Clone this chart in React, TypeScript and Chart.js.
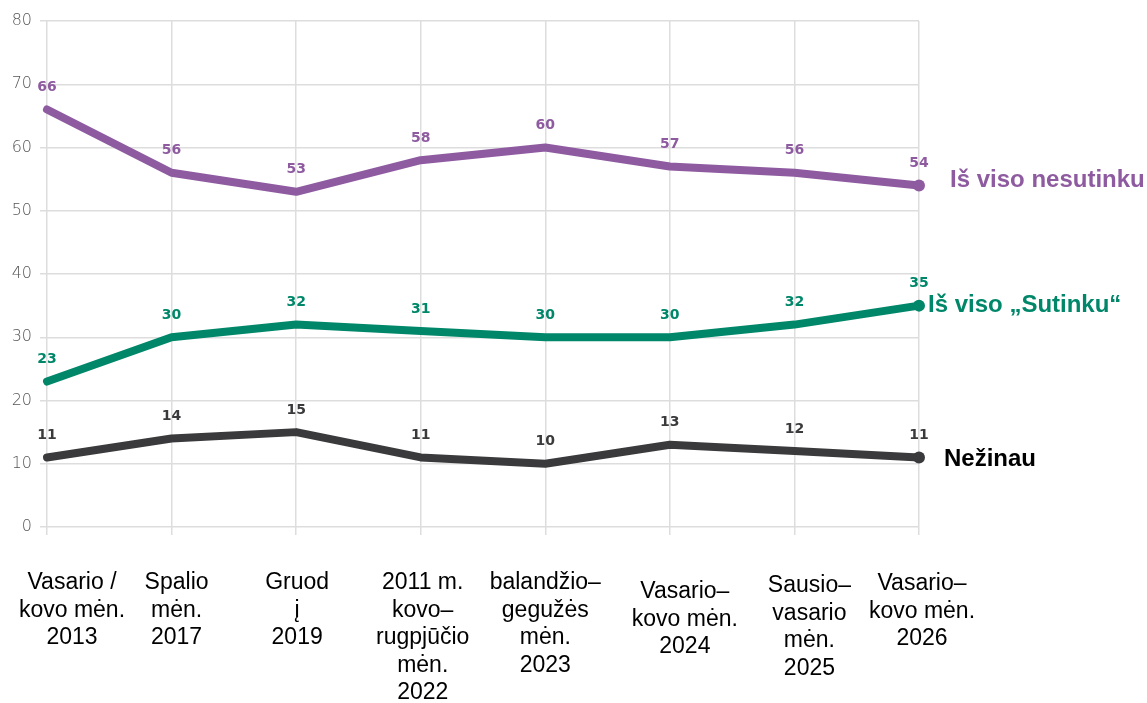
import React, { useEffect, useRef } from "react";
import { Chart, registerables } from "chart.js";

Chart.register(...registerables);

const categories: string[][] = [
  ["Vasario /", "kovo mėn.", "2013"],
  ["Spalio", "mėn.", "2017"],
  ["Gruod", "į", "2019"],
  ["2011 m.", "kovo–", "rugpjūčio", "mėn.", "2022"],
  ["balandžio–", "gegužės", "mėn.", "2023"],
  ["Vasario–", "kovo mėn.", "2024"],
  ["Sausio–", "vasario", "mėn.", "2025"],
  ["Vasario–", "kovo mėn.", "2026"],
];

const nesutinku = [66, 56, 53, 58, 60, 57, 56, 54];
const sutinku = [23, 30, 32, 31, 30, 30, 32, 35];
const nezinau = [11, 14, 15, 11, 10, 13, 12, 11];

const seriesNames = ["Iš viso nesutinku", "Iš viso „Sutinku“", "Nežinau"];
const seriesColors = ["#8E5BA0", "#00876A", "#3A3A3C"];
const endLabelColors = ["#8E5BA0", "#00876A", "#000000"];
const endLabelOffsets = [
  { dx: 31, dy: -5 },
  { dx: 9, dy: 0 },
  { dx: 25, dy: 2 },
];

// small nudges of the category labels relative to their ticks, as in the source
const catLabelShiftX = [25, 5, 1, 2, 0, 15, 15, 3];
const catLabelShiftY = [0, 0, 0, 0, 0, 9, 3, 1];

const yTicks = [0, 10, 20, 30, 40, 50, 60, 70, 80];

const labelPlugin = {
  id: "labels",
  afterDatasetsDraw(chart: any) {
    const ctx = chart.ctx;
    ctx.save();
    chart.data.datasets.forEach((ds: any, i: number) => {
      const meta = chart.getDatasetMeta(i);
      ctx.font = "bold 14px 'DejaVu Sans', sans-serif";
      ctx.fillStyle = ds.borderColor;
      ctx.textAlign = "center";
      ctx.textBaseline = "middle";
      meta.data.forEach((pt: any, j: number) => {
        ctx.fillText(String(ds.data[j]), pt.x, pt.y - 22);
      });
      const last = meta.data[meta.data.length - 1];
      ctx.font = "bold 24px 'Liberation Sans', Arial, sans-serif";
      ctx.fillStyle = endLabelColors[i];
      ctx.textAlign = "left";
      ctx.fillText(
        seriesNames[i],
        last.x + endLabelOffsets[i].dx,
        last.y + endLabelOffsets[i].dy
      );
    });

    // category labels
    const xs = chart.scales.x;
    const base = chart.chartArea.bottom + 62;
    ctx.font = "23px 'Liberation Sans', Arial, sans-serif";
    ctx.fillStyle = "#000";
    ctx.textAlign = "center";
    ctx.textBaseline = "alphabetic";
    categories.forEach((lines, i) => {
      const x = xs.getPixelForTick(i) + catLabelShiftX[i];
      lines.forEach((ln, k) => {
        ctx.fillText(ln, x, base + catLabelShiftY[i] + k * 27.5);
      });
    });
    ctx.restore();
  },
};

export default function App() {
  const ref = useRef<HTMLCanvasElement>(null);
  useEffect(() => {
    if (!ref.current) return;
    const lastIdx = categories.length - 1;
    const mk = (i: number, data: number[]) => ({
      label: seriesNames[i],
      data,
      borderColor: seriesColors[i],
      backgroundColor: seriesColors[i],
      borderWidth: 8,
      borderJoinStyle: "round" as const,
      borderCapStyle: "round" as const,
      tension: 0,
      pointRadius: (c: any) => (c.dataIndex === lastIdx ? 6 : 0),
      pointHoverRadius: 0,
      pointBorderWidth: 0,
    });
    const chart = new Chart(ref.current, {
      type: "line",
      data: {
        labels: categories.map((c) => c.join(" ")),
        datasets: [mk(0, nesutinku), mk(1, sutinku), mk(2, nezinau)],
      },
      options: {
        animation: false,
        responsive: false,
        maintainAspectRatio: false,
        layout: { padding: { top: 21, right: 228, left: 0, bottom: 0 } },
        plugins: { legend: { display: false }, tooltip: { enabled: false } },
        scales: {
          x: {
            offset: false,
            grid: { color: "#DDDDDD", lineWidth: 1.5, tickLength: 8, drawTicks: true },
            border: { display: false },
            ticks: { display: false, autoSkip: false, maxRotation: 0 },
            afterFit: (s: any) => {
              s.height = 176;
              s.paddingLeft = 0;
              s.paddingRight = 0;
            },
          },
          y: {
            min: 0,
            max: 80,
            afterBuildTicks: (s: any) => {
              s.ticks = yTicks.map((v) => ({ value: v }));
            },
            grid: { color: "#DDDDDD", lineWidth: 1.5, tickLength: 7 },
            border: { display: false },
            ticks: {
              color: "#555555",
              font: { family: "'DejaVu Sans', sans-serif", size: 16, weight: 200 as any },
              padding: 8,
            },
            afterFit: (s: any) => {
              s.width = 47;
            },
          },
        },
      },
      plugins: [labelPlugin],
    });
    return () => chart.destroy();
  }, []);
  return (
    <div style={{ position: "fixed", left: 0, top: 0, width: 1147, height: 703, background: "#fff" }}>
      <canvas ref={ref} width={1147} height={703} style={{ width: 1147, height: 703 }} />
    </div>
  );
}
